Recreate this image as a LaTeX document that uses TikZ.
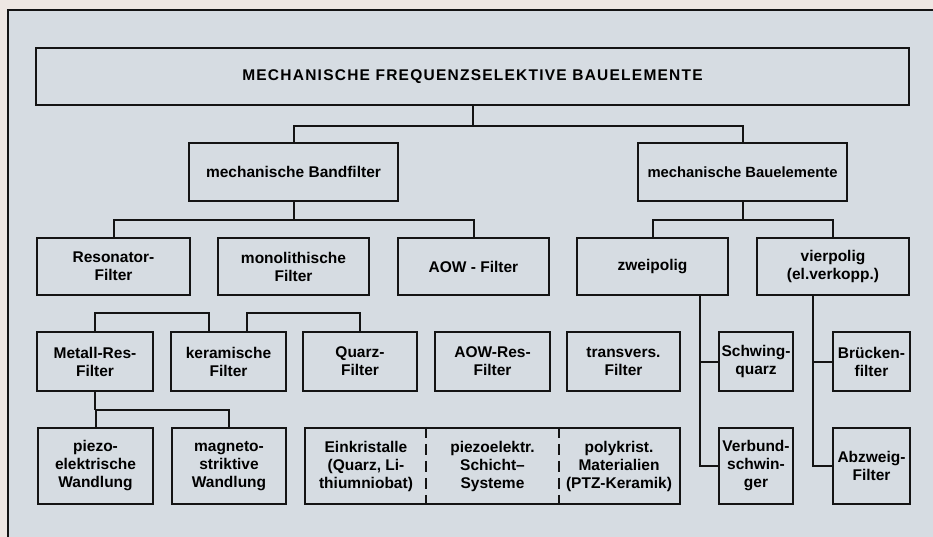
\documentclass[tikz,border=0pt]{standalone}
\usepackage{fontspec}
\setmainfont{Liberation Sans}
\newfontfamily\titlefont[LetterSpace=8]{Liberation Sans}
\usepackage{tikz}
\usetikzlibrary{positioning}
\definecolor{paperTone}{HTML}{EEE7E3}
\definecolor{panelTone}{HTML}{D6DCE2}
\definecolor{inkTone}{HTML}{141414}

\begin{document}
\begin{tikzpicture}[
  x=1pt,
  y=-1pt,
  font=\bfseries\fontsize{15.5}{18}\selectfont,
  box/.style={
    rectangle,
    draw=inkTone,
    line width=2.2pt,
    align=center,
    inner sep=0pt
  },
  headbox/.style={box,minimum width=209pt,minimum height=58pt},
  midbox/.style={box,minimum height=57pt},
  lowbox/.style={box,minimum height=59pt},
  basebox/.style={box,minimum height=76pt},
  link/.style={draw=inkTone,line width=2pt},
  divider/.style={draw=inkTone,line width=1.5pt,dash pattern=on 11pt off 6pt}
]
\useasboundingbox (0,0) rectangle (933,537);

% Paper and panel.
\fill[paperTone] (0,0) rectangle (933,537);
\fill[panelTone] (8,10) rectangle (933,537);
\draw[link,line width=2.2pt] (8,537) -- (8,10) -- (933,10);

% Title.
\node[box,minimum width=873pt,minimum height=57pt,font=\titlefont\bfseries\fontsize{15.5}{18}\selectfont] (top) at (472.5,76.5) {MECHANISCHE FREQUENZSELEKTIVE BAUELEMENTE};

% Second row.
\node[headbox] (bandf) at (293.5,172) {mechanische Bandfilter};
\node[headbox,font=\bfseries\fontsize{14.8}{18}\selectfont] (bauel) at (742.5,172) {mechanische Bauelemente};

% Third row.
\node[midbox,minimum width=153pt] (reson) at (113.5,266.5) {Resonator-\\Filter};
\node[midbox,minimum width=151pt] (mono) at (293.5,266.5) {monolithische\\Filter};
\node[midbox,minimum width=151pt] (aow) at (473.5,266.5) {AOW - Filter};
\node[midbox,minimum width=151pt] (zwei) at (652.5,266.5) {zweipolig};
\node[midbox,minimum width=152pt] (vier) at (833,266.5) {vierpolig\\(el.verkopp.)};

% Fourth row.
\node[lowbox,minimum width=116pt] (metall) at (95,361.5) {Metall-Res-\\Filter};
\node[lowbox,minimum width=115pt] (keram) at (228.5,361.5) {keramische\\Filter};
\node[lowbox,minimum width=114pt] (quarz) at (360,361.5) {Quarz-\\Filter};
\node[lowbox,minimum width=115pt] (aowres) at (492.5,361.5) {AOW-Res-\\Filter};
\node[lowbox,minimum width=113pt] (transv) at (623.5,361.5) {transvers.\\Filter};
\node[lowbox,minimum width=74pt] (schwing) at (756,361.5) {Schwing-\\quarz};
\node[lowbox,minimum width=77pt] (bruck) at (871.5,361.5) {Brücken-\\filter};

% Bottom row.
\node[basebox,minimum width=115pt] (piezo) at (95.5,466) {piezo-\\elektrische\\Wandlung};
\node[basebox,minimum width=114pt] (magneto) at (229,466) {magneto-\\striktive\\Wandlung};
\node[basebox,minimum width=375pt] (mat) at (492.5,466) {};
\node[align=center] (einkr) at (366,466) {Einkristalle\\(Quarz, Li-\\thiumniobat)};
\node[align=center] (schicht) at (492.5,466) {piezoelektr.\\Schicht--\\Systeme};
\node[align=center] (poly) at (619,466) {polykrist.\\Materialien\\(PTZ-Keramik)};
\draw[divider] ([xshift=122pt]mat.north west) -- ([xshift=122pt]mat.south west);
\draw[divider] ([xshift=-122pt]mat.north east) -- ([xshift=-122pt]mat.south east);
\node[basebox,minimum width=74pt] (verbund) at (756,466) {Verbund-\\schwin-\\ger};
\node[basebox,minimum width=77pt] (abzweig) at (871.5,466) {Abzweig-\\Filter};

% Tree links.
\draw[link] (top.south) -- ++(0,20) coordinate (j1);
\draw[link] (bandf.north) |- (j1) -| (bauel.north);
\draw[link] (bandf.south) -- ++(0,18) coordinate (j2);
\draw[link] (reson.north) |- (j2) -| (aow.north);
\draw[link] (bauel.south) -- ++(0,18) coordinate (j3);
\draw[link] (zwei.north) |- (j3) -| (vier.north);
\draw[link] ([xshift=47.5pt]zwei.south) |- (schwing.west);
\draw[link] ([xshift=47.5pt]zwei.south) |- (verbund.west);
\draw[link] ([xshift=-20pt]vier.south) |- (bruck.west);
\draw[link] ([xshift=-20pt]vier.south) |- (abzweig.west);

% Brackets over the fourth row.
\draw[link] (metall.north) -- ++(0,-18) -| ([xshift=-19.5pt]keram.north);
\draw[link] ([xshift=18.5pt]keram.north) -- ++(0,-18) -| (quarz.north);
\draw[link] (metall.south) -- ++(0,18) coordinate (j4);
\draw[link] (piezo.north) |- (j4) -| (magneto.north);

\end{tikzpicture}
\end{document}
